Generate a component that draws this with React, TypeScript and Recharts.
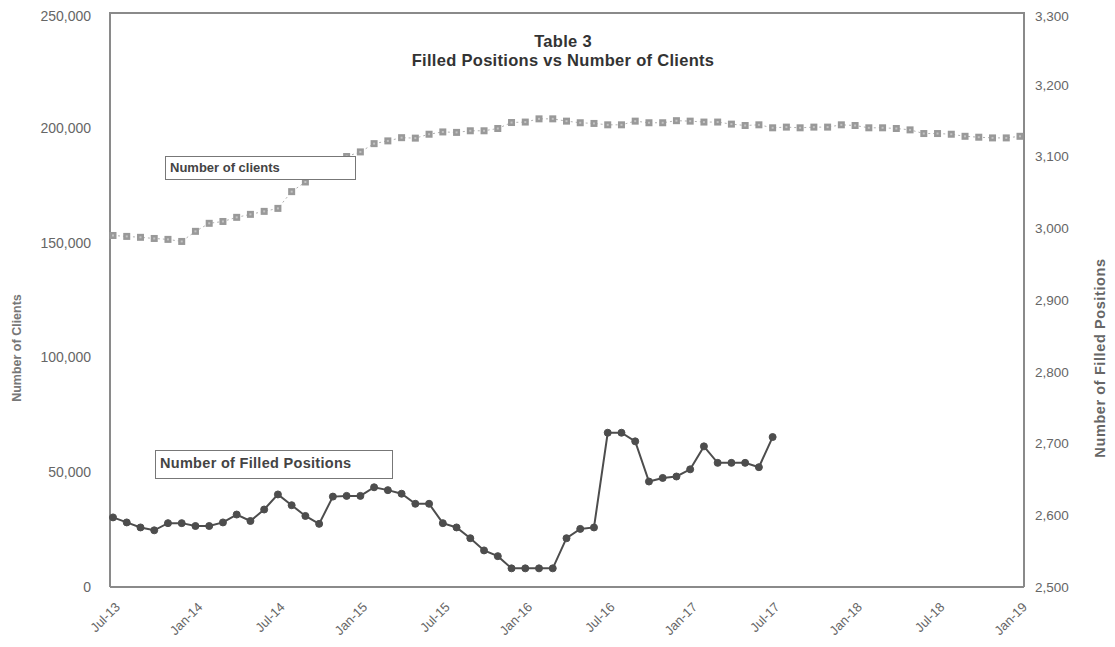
import { LineChart, Line, XAxis, YAxis } from 'recharts'

const months = [
  'Jul-13', 'Aug-13', 'Sep-13', 'Oct-13', 'Nov-13', 'Dec-13',
  'Jan-14', 'Feb-14', 'Mar-14', 'Apr-14', 'May-14', 'Jun-14', 'Jul-14', 'Aug-14', 'Sep-14', 'Oct-14', 'Nov-14', 'Dec-14',
  'Jan-15', 'Feb-15', 'Mar-15', 'Apr-15', 'May-15', 'Jun-15', 'Jul-15', 'Aug-15', 'Sep-15', 'Oct-15', 'Nov-15', 'Dec-15',
  'Jan-16', 'Feb-16', 'Mar-16', 'Apr-16', 'May-16', 'Jun-16', 'Jul-16', 'Aug-16', 'Sep-16', 'Oct-16', 'Nov-16', 'Dec-16',
  'Jan-17', 'Feb-17', 'Mar-17', 'Apr-17', 'May-17', 'Jun-17', 'Jul-17', 'Aug-17', 'Sep-17', 'Oct-17', 'Nov-17', 'Dec-17',
  'Jan-18', 'Feb-18', 'Mar-18', 'Apr-18', 'May-18', 'Jun-18', 'Jul-18', 'Aug-18', 'Sep-18', 'Oct-18', 'Nov-18', 'Dec-18',
  'Jan-19',
]

const tickLabels = [
  'Jul-13', 'Jan-14', 'Jul-14', 'Jan-15', 'Jul-15', 'Jan-16',
  'Jul-16', 'Jan-17', 'Jul-17', 'Jan-18', 'Jul-18', 'Jan-19',
]

const clients = [
  153100, 152700, 152300, 151800, 151400, 150500,
  154900, 158400, 159200, 161000, 162300, 163600, 164900, 172200, 176400, 180000, 184000, 187500,
  189500, 193100, 194300, 195700, 195500, 197200, 198200, 198000, 198700, 198700, 199700, 202300,
  202500, 203900, 203900, 202900, 202200, 201900, 201300, 201300, 202900, 202200, 202200, 203100,
  202900, 202500, 202500, 201600, 201000, 201300, 200000, 200300, 200000, 200300, 200300, 201300,
  201000, 200000, 200000, 199700, 199100, 197500, 197500, 197200, 196300, 195900, 195600, 195600,
  196300,
]

const filledPositions = [
  2597, 2590, 2583, 2579, 2589, 2589,
  2585, 2585, 2590, 2601, 2592, 2608, 2629, 2614, 2599, 2588, 2626, 2627,
  2627, 2639, 2635, 2630, 2616, 2616, 2589, 2583, 2568, 2551, 2543, 2526,
  2526, 2526, 2526, 2568, 2581, 2583, 2715, 2715, 2703, 2647, 2652, 2654,
  2664, 2696, 2673, 2673, 2673, 2667, 2709,
]

const clientTicks = [0, 50000, 100000, 150000, 200000, 250000]
const positionTicks = [2500, 2600, 2700, 2800, 2900, 3000, 3100, 3200, 3300]

const data = months.map((month, i) => ({
  month,
  clients: clients[i],
  positions: filledPositions[i],
}))

const FONT = '"Liberation Sans", Arial, sans-serif'
const AXIS = '#8a8a8a'
const fmt = (v: number) => v.toLocaleString('en-US')

function MonthTick({ x, y, payload }: any) {
  return (
    <g transform={`translate(${x + 5},${y + 10})`}>
      <text
        textAnchor="end"
        transform="rotate(-45)"
        fontSize={13}
        fontFamily={FONT}
        fill="#666"
        dy={4}
      >
        {payload.value}
      </text>
    </g>
  )
}

function SquareDot({ cx, cy }: any) {
  if (cx == null || cy == null) return null
  return (
    <g>
      <rect x={cx - 3.5} y={cy - 3.5} width={7} height={7} fill="#999" />
      <rect x={cx - 1} y={cy - 1} width={2} height={2} fill="#c4c4c4" />
    </g>
  )
}

export default function App() {
  return (
    <div style={{ position: 'relative', width: 1107, height: 639, fontFamily: FONT }}>
      <LineChart
        width={1107}
        height={639}
        data={data}
        margin={{ top: 5, right: 21, bottom: 5, left: 22 }}
      >
        <XAxis
          dataKey="month"
          ticks={tickLabels}
          interval={0}
          tick={<MonthTick />}
          tickLine={false}
          axisLine={{ stroke: AXIS, strokeWidth: 2 }}
          height={55}
          padding={{ left: 3, right: 4 }}
        />
        <YAxis
          yAxisId="left"
          domain={[0, 250000]}
          ticks={clientTicks}
          tickFormatter={fmt}
          width={80}
          tickLine={false}
          tickSize={6}
          tickMargin={13}
          axisLine={{ stroke: AXIS, strokeWidth: 2 }}
          tick={{ fontSize: 14, fill: '#666', fontFamily: FONT }}
        />
        <YAxis
          yAxisId="right"
          orientation="right"
          domain={[2500, 3300]}
          ticks={positionTicks}
          tickFormatter={fmt}
          width={70}
          tickLine={false}
          tickSize={6}
          tickMargin={5}
          axisLine={{ stroke: AXIS, strokeWidth: 2 }}
          tick={{ fontSize: 13.5, fill: '#666', fontFamily: FONT, textAnchor: 'start' }}
        />
        <Line
          yAxisId="left"
          dataKey="clients"
          type="linear"
          stroke="#b0b0b0"
          strokeWidth={1}
          strokeDasharray="2 3"
          dot={<SquareDot />}
          isAnimationActive={false}
        />
        <Line
          yAxisId="right"
          dataKey="positions"
          type="linear"
          stroke="#4d4d4d"
          strokeWidth={2}
          dot={{ r: 3.5, fill: '#4d4d4d', stroke: '#4d4d4d', strokeWidth: 1 }}
          isAnimationActive={false}
        />
      </LineChart>

      {/* top edge of the plot frame */}
      <div
        style={{
          position: 'absolute',
          left: 101,
          top: 4,
          width: 916,
          height: 2,
          background: AXIS,
        }}
      />

      <div
        style={{
          position: 'absolute',
          left: 305,
          top: 24,
          width: 500,
          textAlign: 'center',
          fontSize: 16.5,
          lineHeight: '19px',
          fontWeight: 'bold',
          color: '#333',
          letterSpacing: 0.3,
        }}
      >
        <div>Table 3</div>
        <div>Filled Positions vs Number of Clients</div>
      </div>

      <div
        style={{
          position: 'absolute',
          left: 157,
          top: 148,
          width: 191,
          height: 24,
          boxSizing: 'border-box',
          border: '1.5px solid #777',
          background: '#fff',
          fontSize: 13,
          fontWeight: 'bold',
          color: '#444',
          lineHeight: '21px',
          paddingLeft: 4,
        }}
      >
        Number of clients
      </div>

      <div
        style={{
          position: 'absolute',
          left: 147,
          top: 442,
          width: 238,
          height: 29,
          boxSizing: 'border-box',
          border: '1.5px solid #777',
          background: '#fff',
          fontSize: 14.5,
          fontWeight: 'bold',
          color: '#444',
          lineHeight: '24px',
          paddingLeft: 4,
          letterSpacing: 0.3,
        }}
      >
        Number of Filled Positions
      </div>

      <div
        style={{
          position: 'absolute',
          left: 9,
          top: 340,
          transform: 'translate(-50%, -50%) rotate(-90deg)',
          whiteSpace: 'nowrap',
          fontSize: 12.5,
          fontWeight: 'bold',
          color: '#777',
        }}
      >
        Number of Clients
      </div>

      <div
        style={{
          position: 'absolute',
          left: 1092,
          top: 350,
          transform: 'translate(-50%, -50%) rotate(-90deg)',
          whiteSpace: 'nowrap',
          fontSize: 14.5,
          fontWeight: 'bold',
          color: '#666',
          letterSpacing: 0.6,
        }}
      >
        Number of Filled Positions
      </div>
    </div>
  )
}
